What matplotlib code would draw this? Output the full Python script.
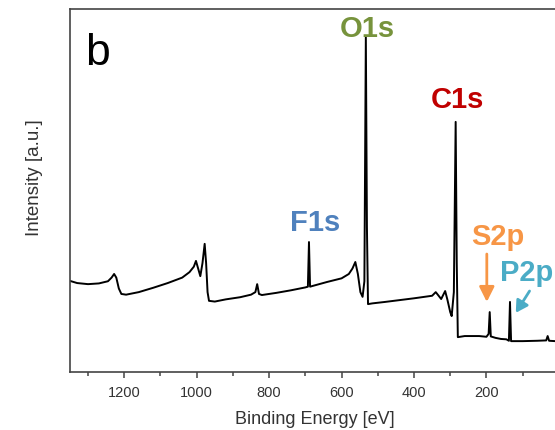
import matplotlib
matplotlib.use("Agg")
import matplotlib.pyplot as plt
from matplotlib.ticker import MultipleLocator, FixedLocator

plt.rcParams['font.family'] = ['Liberation Sans', 'DejaVu Sans']

# survey spectrum (binding energy in eV, intensity in a.u.)
energy = [1350, 1330, 1300, 1270, 1245, 1235, 1228, 1222, 1215, 1208, 1195, 1160,
          1120, 1080, 1040, 1020, 1008, 1002, 996, 990, 984, 978, 974, 970, 966,
          950, 920, 880, 850, 838, 833, 828, 820, 780, 740, 700, 693, 690, 687,
          680, 640, 600, 580, 570, 562, 555, 548, 542, 537, 533, 530, 527, 515,
          480, 440, 400, 350, 340, 332, 325, 318, 314, 308, 300, 296, 290, 285,
          282, 279, 260, 220, 200, 194, 191, 188, 175, 160, 145, 138, 135, 132,
          100, 60, 35, 31, 27, 10, 0]
intensity = [25.1, 24.5, 24.2, 24.4, 25.0, 26.0, 27.0, 26.0, 23.0, 21.5, 21.3, 22.0,
             23.2, 24.5, 26.0, 27.5, 29.0, 30.6, 28.5, 26.4, 30.0, 35.3, 30.0, 22.0, 19.6,
             19.4, 20.0, 20.6, 21.3, 22.0, 24.2, 21.5, 21.2, 21.8, 22.5, 23.3, 23.5, 35.8, 23.5,
             23.7, 24.8, 25.8, 27.0, 28.5, 30.3, 27.0, 22.0, 20.7, 25.0, 92.6, 40.0, 18.7, 18.9,
             19.3, 19.8, 20.3, 21.0, 22.0, 21.0, 20.1, 21.5, 22.3, 20.0, 16.5, 15.4, 22.0, 68.9,
             30.0, 9.6, 9.9, 9.9, 9.7, 10.5, 16.5, 9.8, 9.4, 9.1, 9.0, 8.6, 19.3, 8.5,
             8.5, 8.6, 8.7, 9.9, 8.6, 8.5, 8.5]

xticks = [1200, 1000, 800, 600, 400, 200]

peak_labels = ['O1s', 'C1s', 'F1s', 'S2p', 'P2p']
label_x = [530, 279, 674, 169, 89]
label_y = [94.8, 75.2, 41.3, 37.5, 27.5]
label_colors = ['#77933C', '#C00000', '#4F81BD', '#F79646', '#4BACC6']

fig = plt.figure(figsize=(5.55, 4.31), dpi=100)
ax = fig.add_axes([0.126, 0.1346, 0.881, 0.8422])

ax.plot(energy, intensity, color='black', lw=1.4)
ax.set_xlim(1350, 0)
ax.set_ylim(0, 100)

ax.xaxis.set_major_locator(FixedLocator(xticks))
ax.xaxis.set_minor_locator(MultipleLocator(100))
ax.tick_params(axis='x', which='major', direction='out', length=4.5, width=1.1,
               labelsize=10.5, labelcolor='#333333', color='#444444', pad=5)
ax.tick_params(axis='x', which='minor', direction='out', length=3, width=1.1, color='#444444')
ax.set_yticks([])
for s in ax.spines.values():
    s.set_color('#444444')
    s.set_linewidth(1.2)

ax.set_xlabel('Binding Energy [eV]', fontsize=13, color='#333333', va='center')
ax.xaxis.set_label_coords(0.5, -0.129)
ax.set_ylabel('Intensity [a.u.]', fontsize=13.5, color='#333333', va='center')
ax.yaxis.set_label_coords(-0.0716, 0.537)

ax.text(0.031, 0.848, 'b', transform=ax.transAxes, fontsize=32, va='baseline', ha='left')

for lab, x, y, c in zip(peak_labels, label_x, label_y, label_colors):
    ax.text(x, y, lab, color=c, fontsize=21, fontweight='bold', ha='center', va='center')

# arrows pointing at the small S2p and P2p peaks
ax.annotate('', xy=(199, 19.3), xytext=(199, 32.5),
            arrowprops=dict(arrowstyle='-|>,head_width=0.45,head_length=0.9',
                            color='#F79646', lw=2, shrinkA=0, shrinkB=0))
ax.annotate('', xy=(119, 16.3), xytext=(81, 22.3),
            arrowprops=dict(arrowstyle='-|>,head_width=0.4,head_length=0.7',
                            color='#4BACC6', lw=2, shrinkA=0, shrinkB=0))

fig.savefig('out.png', dpi=100)
